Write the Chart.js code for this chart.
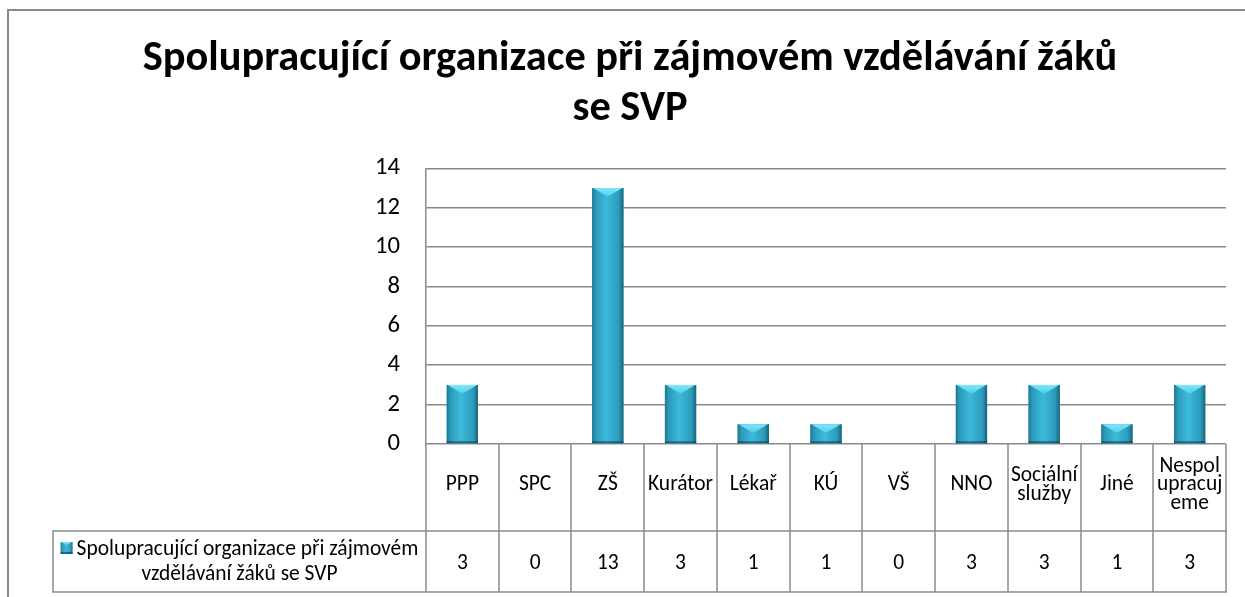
<!DOCTYPE html>
<html>
<head>
<meta charset="utf-8">
<script src="https://cdn.jsdelivr.net/npm/chart.js@4/dist/chart.umd.min.js"></script>
<style>
html,body{margin:0;padding:0;background:#fff;}
#wrap{width:1245px;height:597px;position:relative;}
canvas{display:block;}
</style>
</head>
<body>
<div id="wrap"><canvas id="c" width="1245" height="597"></canvas></div>
<script>
// ---- data ----
const titleLines = ['Spolupracující organizace při zájmovém vzdělávání žáků', 'se SVP'];
const seriesName = ['Spolupracující organizace při zájmovém', 'vzdělávání žáků se SVP'];
const categories = ['PPP', 'SPC', 'ZŠ', 'Kurátor', 'Lékař', 'KÚ', 'VŠ', 'NNO', ['Sociální', 'služby'], 'Jiné', ['Nespol', 'upracuj', 'eme']];
const values = [3, 0, 13, 3, 1, 1, 0, 3, 3, 1, 3];
const yMin = 0, yMax = 14, yStep = 2;

// ---- styling ----
const F = "Carlito, Lato, 'Open Sans', sans-serif";
const GRID = '#8a8a8a';
const mctx = document.createElement('canvas').getContext('2d');
function fit(text, weight, target) {
  mctx.font = weight + ' 100px ' + F;
  return 100 * target / mctx.measureText(text).width;
}
const titleSize = fit(titleLines[0], 'bold', 975);
const bodySize = fit(seriesName[0], 'normal', 342);
const tickSize = fit('14', 'normal', 25);

function drawBarShape(ctx, left, right, top, bottom) {
  const w = right - left, h = bottom - top;
  if (h < 1) return;
  const g = ctx.createLinearGradient(left, 0, right, 0);
  g.addColorStop(0, '#1f7792');
  g.addColorStop(0.12, '#2c9aba');
  g.addColorStop(0.45, '#3cbadc');
  g.addColorStop(0.85, '#2c9bbb');
  g.addColorStop(1, '#1a6378');
  ctx.fillStyle = g;
  ctx.fillRect(left, top, w, h);
  // top bevel
  const bh = Math.min(w * 0.28, h * 0.6);
  const tg = ctx.createLinearGradient(0, top, 0, top + bh);
  tg.addColorStop(0, '#80e7f9');
  tg.addColorStop(1, '#50cde8');
  ctx.fillStyle = tg;
  ctx.beginPath();
  ctx.moveTo(left + 1, top);
  ctx.lineTo(right - 1, top);
  ctx.lineTo((left + right) / 2, top + bh);
  ctx.closePath();
  ctx.fill();
  // bottom shade
  const bs = Math.min(2, h / 4);
  ctx.fillStyle = 'rgba(10,50,65,0.55)';
  ctx.fillRect(left, bottom - bs, w, bs);
}

const barFx = {
  id: 'barFx',
  afterDatasetsDraw(chart) {
    const ctx = chart.ctx;
    const meta = chart.getDatasetMeta(0);
    ctx.save();
    meta.data.forEach(el => {
      const p = el.getProps(['x', 'y', 'base', 'width'], true);
      drawBarShape(ctx, p.x - p.width / 2, p.x + p.width / 2, Math.min(p.y, p.base), Math.max(p.y, p.base));
    });
    ctx.restore();
  }
};

const tablePlugin = {
  id: 'dataTable',
  afterDraw(chart) {
    const ctx = chart.ctx, xs = chart.scales.x, ca = chart.chartArea;
    const n = categories.length;
    const cw = (xs.right - xs.left) / n;
    const row1Top = ca.bottom, row1Bot = 531, row2Bot = 592, legLeft = 53;
    ctx.save();
    ctx.strokeStyle = GRID;
    ctx.lineWidth = 1.5;
    ctx.beginPath();
    for (let i = 0; i <= n; i++) {
      const x = Math.round(xs.left + i * cw);
      ctx.moveTo(x, row1Top);
      ctx.lineTo(x, row2Bot + 0.75);
    }
    ctx.moveTo(legLeft, row1Bot);
    ctx.lineTo(legLeft, row2Bot + 0.75);
    ctx.moveTo(legLeft - 0.75, row1Bot);
    ctx.lineTo(xs.right + 1, row1Bot);
    ctx.moveTo(legLeft - 0.75, row2Bot);
    ctx.lineTo(xs.right + 1, row2Bot);
    ctx.stroke();

    ctx.fillStyle = '#000';
    ctx.textAlign = 'center';
    ctx.textBaseline = 'middle';
    ctx.font = 'normal ' + bodySize + 'px ' + F;
    const lh = 18.5;
    categories.forEach((lab, i) => {
      const cx = xs.getPixelForValue(i);
      const lines = Array.isArray(lab) ? lab : [lab];
      const y0 = 485 - (lines.length - 1) * lh / 2;
      lines.forEach((t, j) => ctx.fillText(t, cx, y0 + j * lh));
      ctx.fillText(String(values[i]), cx, 564);
    });

    // legend cell
    const cellCx = (legLeft + xs.left) / 2;
    const w1 = ctx.measureText(seriesName[0]).width;
    const mk = 12, gap = 4;
    const total = mk + gap + w1;
    const sx = cellCx - total / 2;
    drawBarShape(ctx, sx, sx + mk, 542, 542 + mk);
    ctx.fillStyle = '#000';
    ctx.textAlign = 'left';
    ctx.fillText(seriesName[0], sx + mk + gap, 550);
    ctx.textAlign = 'center';
    ctx.fillText(seriesName[1], cellCx, 575);

    // outer chart border (clipped by the picture)
    ctx.fillStyle = GRID;
    ctx.fillRect(7, 9, 2, 588);
    ctx.fillRect(7, 9, 1238, 2);
    ctx.restore();
  }
};

new Chart(document.getElementById('c'), {
  type: 'bar',
  data: {
    labels: categories,
    datasets: [{
      label: seriesName.join(' '),
      data: values,
      backgroundColor: '#31a6c7',
      borderWidth: 0,
      barPercentage: 0.43,
      categoryPercentage: 1
    }]
  },
  options: {
    responsive: false,
    animation: false,
    devicePixelRatio: 1,
    layout: { padding: { left: 34, right: 19, top: 0, bottom: 153 } },
    plugins: {
      legend: { display: false },
      tooltip: { enabled: false },
      title: {
        display: true,
        text: titleLines,
        color: '#000',
        font: { family: F, size: titleSize, weight: 'bold', lineHeight: '50px' },
        padding: { top: 34, bottom: 34.3 }
      }
    },
    scales: {
      x: { display: false, offset: true },
      y: {
        min: yMin, max: yMax,
        afterFit(s) { s.width = 392; },
        ticks: { stepSize: yStep, color: '#000', padding: 26, font: { family: F, size: tickSize } },
        grid: { color: GRID, lineWidth: 1.5, drawTicks: false },
        border: { display: true, color: GRID, width: 1.5 }
      }
    }
  },
  plugins: [barFx, tablePlugin]
});
</script>
</body>
</html>
